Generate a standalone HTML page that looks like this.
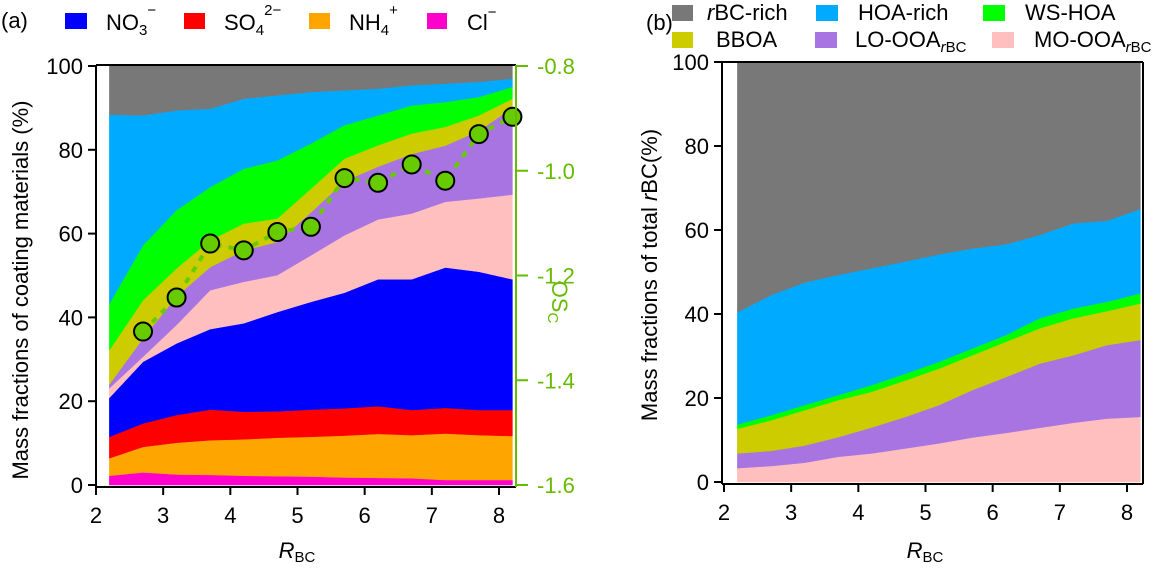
<!DOCTYPE html>
<html><head><meta charset="utf-8"><style>
body{margin:0;background:#fff;}
svg{display:block;font-family:"Liberation Sans",Arial,sans-serif;}
</style></head><body>
<svg id="fig" width="1166" height="571" viewBox="0 0 1166 571">
<g id="pa"></g>
<g id="pb"></g>
</svg>
<script>
const xsA = [2.2,2.7,3.2,3.7,4.2,4.7,5.2,5.7,6.2,6.7,7.2,7.7,8.2];
// panel a cumulative tops (%)
const clTop   = [2.2,3.0,2.5,2.4,2.2,2.1,2.0,1.8,1.7,1.6,1.2,1.2,1.2];
const nh4Top  = [6.4,9.1,10.1,10.7,10.9,11.3,11.5,11.8,12.2,11.9,12.3,11.9,11.7];
const so4Top  = [11.5,14.7,16.7,18.0,17.5,17.6,18.0,18.3,18.8,17.9,18.4,17.9,17.9];
const no3Top  = [20.8,29.4,33.8,37.2,38.6,41.3,43.7,45.9,49.1,49.1,51.9,50.9,49.1];
const mooaTopA= [23.1,30.6,38.2,46.5,48.5,50.1,54.8,59.6,63.4,64.8,67.6,68.4,69.3];
const looaTopA= [24,35,45,52,56,58,65,72.5,76,79,81,84.5,90];
const bboaTopA= [32.2,44.1,51.7,58.4,62.4,63.6,70.7,77.9,81.1,83.9,85.5,88.2,92.2];
const wsTopA  = [43.3,57.2,65.6,71.1,75.5,77.5,81.5,85.9,88.2,90.6,91.4,92.6,95.0];
const hoaTopA = [88.4,88.2,89.4,89.8,92.2,93.0,93.8,94.2,94.6,95.4,95.8,96.2,97.0];
const rbcTopA = [100,100,100,100,100,100,100,100,100,100,100,100,100];
const oscX = [2.7,3.2,3.7,4.2,4.7,5.2,5.7,6.2,6.7,7.2,7.7,8.2];
const oscV = [-1.307,-1.242,-1.139,-1.152,-1.117,-1.107,-1.014,-1.023,-0.988,-1.019,-0.930,-0.897];
// panel b cumulative tops (%)
const mooaTopB= [3.3,3.8,4.6,6.0,6.8,8.0,9.2,10.6,11.7,12.9,14.1,15.1,15.5];
const looaTopB= [6.8,7.4,8.7,10.7,13.0,15.5,18.3,21.9,25.0,28.2,30.2,32.6,33.8];
const bboaTopB= [12.7,14.7,17.1,19.5,21.5,24.2,27.0,30.2,33.4,36.6,39.0,40.7,42.5];
const wsTopB  = [13.7,15.9,18.3,20.7,23.1,25.8,28.6,31.8,35.0,39.0,41.3,42.9,44.9];
const hoaTopB = [40.4,44.5,47.5,49.3,50.9,52.5,54.2,55.6,56.6,58.8,61.6,62.2,65.0];
const rbcTopB = [100,100,100,100,100,100,100,100,100,100,100,100,100];
const xTicks = [2,3,4,5,6,7,8];
const yTicks = [0,20,40,60,80,100];
const oscTicks = [-0.8,-1.0,-1.2,-1.4,-1.6];

const NS="http://www.w3.org/2000/svg";
function mk(p,t,a){const e=document.createElementNS(NS,t);for(const k in a)e.setAttribute(k,a[k]);p.appendChild(e);return e;}
function txt(p,x,y,s,anchor,size,fill){const e=mk(p,'text',{x:x,y:y,'text-anchor':anchor,'font-size':size,fill:fill||'#000'});e.textContent=s;return e;}

function axes(x0,x1,y0,y1){return {x:v=>x0+(v-2)*(x1-x0)/6, y:v=>y0+(v)*(y1-y0)/100};}
const A=axes(96,499,485,66);
const B=axes(724,1127,482,62);

function stack(g,ax,xs,layers){
  let prev=xs.map(()=>0);
  layers.forEach(([top,col,name])=>{
    let d='';
    xs.forEach((x,i)=>{d+=(i?'L':'M')+ax.x(x).toFixed(1)+','+ax.y(top[i]).toFixed(1);});
    for(let i=xs.length-1;i>=0;i--)d+='L'+ax.x(xs[i]).toFixed(1)+','+ax.y(prev[i]).toFixed(1);
    const p=mk(g,'path',{d:d+'Z',fill:col,stroke:col,'stroke-width':0.5});
    
    
    prev=top;
  });
}
const pa=document.getElementById('pa'), pb=document.getElementById('pb');
stack(pa,A,xsA,[[clTop,'#FF00CC','area-cl'],[nh4Top,'#FFA500','area-nh4'],[so4Top,'#FF0000','area-so4'],[no3Top,'#0000FF','area-no3'],[mooaTopA,'#FFBFBF','area-mo-ooa'],[looaTopA,'#A874E2','area-lo-ooa'],[bboaTopA,'#CCCC00','area-bboa'],[wsTopA,'#00FF00','area-ws-hoa'],[hoaTopA,'#00AAFF','area-hoa-rich'],[rbcTopA,'#787878','area-rbc-rich']]);
stack(pb,B,xsA,[[mooaTopB,'#FFBFBF','area-mo-ooa'],[looaTopB,'#A874E2','area-lo-ooa'],[bboaTopB,'#CCCC00','area-bboa'],[wsTopB,'#00FF00','area-ws-hoa'],[hoaTopB,'#00AAFF','area-hoa-rich'],[rbcTopB,'#787878','area-rbc-rich']]);

// OSc line
const oy=v=>66+(-0.8-v)*(485-66)/0.8;
let od='';oscX.forEach((x,i)=>{od+=(i?'L':'M')+A.x(x)+','+oy(oscV[i]);});
const ol=mk(pa,'path',{d:od,fill:'none',stroke:'#66CC00','stroke-width':4,'stroke-dasharray':'6,7'});

oscX.forEach((x,i)=>{const c=mk(pa,'circle',{cx:A.x(x),cy:oy(oscV[i]),r:9,fill:'#66CC00',stroke:'#000','stroke-width':2});
});

// frames & axes
function frame(g,ax,left,right,top,bottom,rightCol){
  mk(g,'line',{x1:left,y1:top,x2:right,y2:top,stroke:'#000','stroke-width':2});
  mk(g,'line',{x1:left,y1:top,x2:left,y2:bottom,stroke:'#000','stroke-width':2});
  mk(g,'line',{x1:left,y1:bottom,x2:right,y2:bottom,stroke:'#000','stroke-width':2});
  mk(g,'line',{x1:right,y1:top,x2:right,y2:bottom,stroke:rightCol,'stroke-width':2});
  xTicks.forEach(t=>{mk(g,'line',{x1:ax.x(t),y1:bottom,x2:ax.x(t),y2:bottom+8,stroke:'#000','stroke-width':2});
    const l=txt(g,ax.x(t),bottom+36,String(t),'middle',22);});
  yTicks.forEach(t=>{mk(g,'line',{x1:left,y1:ax.y(t),x2:left-8,y2:ax.y(t),stroke:'#000','stroke-width':2});
    const l=txt(g,left-13,ax.y(t)+8,String(t),'end',22);});
}
frame(pa,A,96,516,65,487,'#66BB00');
frame(pb,B,722,1143,62,484,'#000');
oscTicks.forEach(t=>{mk(pa,'line',{x1:516,y1:oy(t),x2:528,y2:oy(t),stroke:'#66BB00','stroke-width':2});
  const l=txt(pa,537,oy(t)+8,t.toFixed(1),'start',22,'#66BB00');});
</script>
<svg width="1166" height="571" style="position:absolute;left:0;top:0">
<g font-family="Liberation Sans,Arial,sans-serif" font-size="22">
<text x="1" y="28">(a)</text>
<rect x="65" y="13" width="22" height="16" fill="#0000FF"/>
<text x="106" y="30">NO<tspan font-size="15" dy="5">3</tspan><tspan font-size="15" dy="-20">−</tspan></text>
<rect x="184" y="13" width="21" height="16" fill="#FF0000"/>
<text x="224" y="30">SO<tspan font-size="15" dy="5">4</tspan><tspan font-size="15" dy="-20">2−</tspan></text>
<rect x="309" y="13" width="21" height="16" fill="#FFA500"/>
<text x="349" y="30">NH<tspan font-size="15" dy="5">4</tspan><tspan font-size="15" dy="-20">+</tspan></text>
<rect x="427" y="13" width="20" height="16" fill="#FF00CC"/>
<text x="467" y="30">Cl<tspan font-size="15" dy="-13">−</tspan></text>
<text x="646" y="30">(b)</text>
<rect x="672" y="5" width="21" height="16" fill="#787878"/>
<text x="707" y="20"><tspan font-style="italic">r</tspan>BC-rich</text>
<rect x="816" y="5" width="22" height="16" fill="#00AAFF"/>
<text x="858" y="20">HOA-rich</text>
<rect x="983" y="5" width="22" height="16" fill="#00FF00"/>
<text x="1025" y="20">WS-HOA</text>
<rect x="672" y="32" width="21" height="16" fill="#CCCC00"/>
<text x="716" y="47">BBOA</text>
<rect x="815" y="32" width="22" height="16" fill="#A874E2"/>
<text x="855" y="47">LO-OOA<tspan font-size="15" dy="5" font-style="italic">r</tspan><tspan font-size="15">BC</tspan></text>
<rect x="992" y="32" width="22" height="16" fill="#FFBFBF"/>
<text x="1034" y="47">MO-OOA<tspan font-size="15" dy="5" font-style="italic">r</tspan><tspan font-size="15">BC</tspan></text>
<text transform="translate(28,290) rotate(-90)" text-anchor="middle">Mass fractions of coating materials (%)</text>
<text transform="translate(552,302) rotate(90)" text-anchor="middle" fill="#66BB00">OS<tspan font-size="15" dy="4">C</tspan></text>
<text x="297" y="558" text-anchor="middle"><tspan font-style="italic">R</tspan><tspan font-size="15" dy="4">BC</tspan></text>
<text transform="translate(657,275) rotate(-90)" text-anchor="middle">Mass fractions of total <tspan font-style="italic">r</tspan>BC(%)</text>
<text x="925" y="558" text-anchor="middle"><tspan font-style="italic">R</tspan><tspan font-size="15" dy="4">BC</tspan></text>
</g></svg>
</body></html>
